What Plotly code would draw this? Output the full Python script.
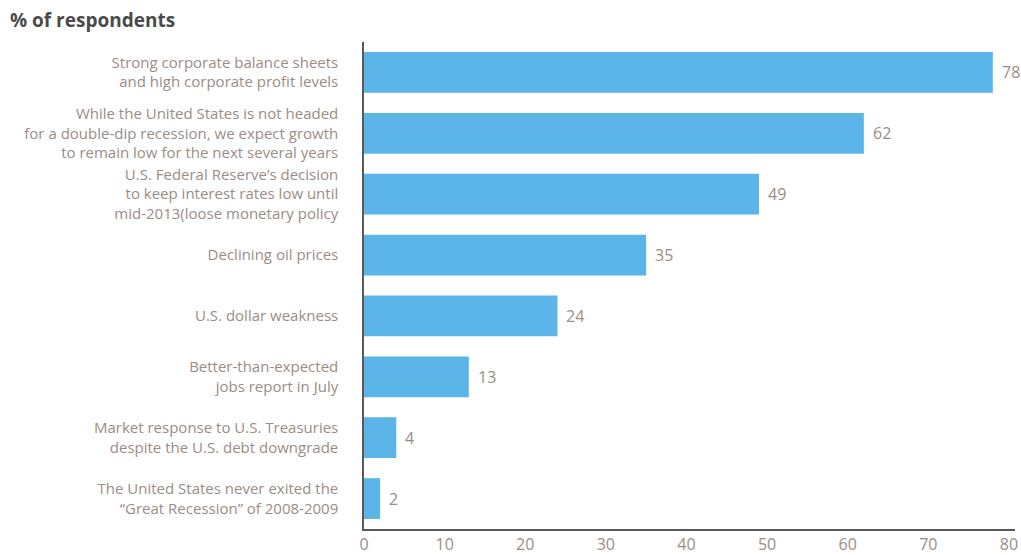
import plotly.graph_objects as go

categories = [
    "Strong corporate balance sheets<br>and high corporate profit levels",
    "While the United States is not headed<br>for a double-dip recession, we expect growth<br>to remain low for the next several years",
    "U.S. Federal Reserve\u2019s decision<br>to keep interest rates low until<br>mid-2013(loose monetary policy",
    "Declining oil prices",
    "U.S. dollar weakness",
    "Better-than-expected<br>jobs report in July",
    "Market response to U.S. Treasuries<br>despite the U.S. debt downgrade",
    "The United States never exited the<br>\u201cGreat Recession\u201d of 2008-2009",
]
values = [78, 62, 49, 35, 24, 13, 4, 2]
x_ticks = [0, 10, 20, 30, 40, 50, 60, 70, 80]

BAR_COLOR = "#5bb5e8"
TEXT_COLOR = "#9a8d86"
AXIS_COLOR = "#58595b"
FONT = "Open Sans, Noto Sans, sans-serif"

fig = go.Figure()
fig.add_trace(go.Bar(
    x=values,
    y=categories,
    orientation="h",
    width=0.67,
    marker=dict(color=BAR_COLOR, line=dict(width=0)),
    hoverinfo="x+y",
))

for cat, v in zip(categories, values):
    fig.add_annotation(
        x=v, y=cat, text=str(v), showarrow=False,
        xanchor="left", xshift=7,
        font=dict(family=FONT, size=16, color=TEXT_COLOR),
    )

fig.add_annotation(
    text="<b>% of respondents</b>", xref="paper", yref="paper",
    x=-356 / 651, y=1 + 22 / 488, xanchor="left", yanchor="middle",
    showarrow=False, font=dict(family=FONT, size=19, color="#4a4a4a"),
)

fig.update_layout(
    width=1021, height=555,
    margin=dict(l=364, r=6, t=42, b=26, autoexpand=False),
    paper_bgcolor="white", plot_bgcolor="white",
    showlegend=False,
    font=dict(family=FONT, size=15, color=TEXT_COLOR),
    xaxis=dict(
        range=[0, 80.75], tickvals=x_ticks, showgrid=False, zeroline=False,
        showline=True, linecolor=AXIS_COLOR, linewidth=1.5,
        ticks="", automargin=False,
        tickfont=dict(size=16, color=TEXT_COLOR),
    ),
    yaxis=dict(
        autorange="reversed", showgrid=False, zeroline=False,
        showline=True, linecolor=AXIS_COLOR, linewidth=1.5,
        ticks="", ticklabelstandoff=21, automargin=False,
        tickfont=dict(size=15, color=TEXT_COLOR),
    ),
)

fig.write_html("out.html")
